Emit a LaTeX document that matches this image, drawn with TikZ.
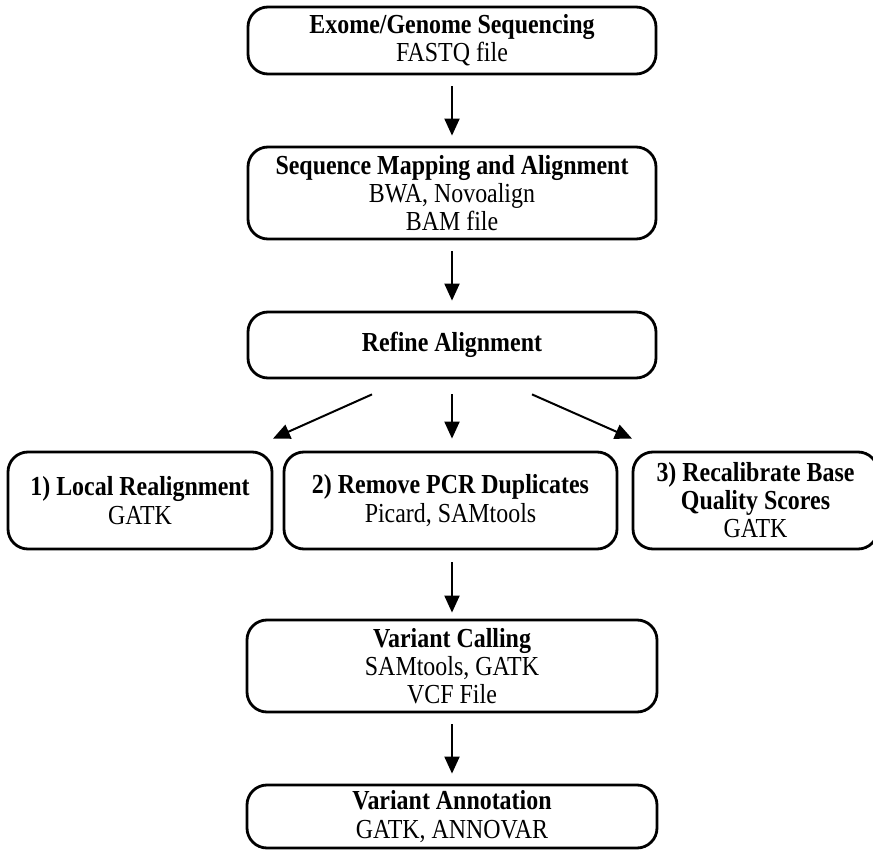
\documentclass[tikz,border=0pt]{standalone}
\usepackage{fontspec}
\setmainfont[FakeStretch=0.87]{Liberation Serif}
\usetikzlibrary{arrows.meta}
\begin{document}
\begin{tikzpicture}[x=1pt,y=-1pt,
  box/.style={draw, line width=2.8pt, rounded corners=20pt, inner sep=0pt, align=center,
    font=\fontsize{27.5}{28}\selectfont},
  arr/.style={line width=2pt, -{Triangle[length=17pt,width=15pt]}}]
\useasboundingbox (0,0) rectangle (873,850);
\node[box, minimum width=408pt, minimum height=67pt] (b1) at (452,40.5)
  {\textbf{Exome/Genome Sequencing}\\FASTQ file};
\node[box, minimum width=408pt, minimum height=92pt] (b2) at (452,193)
  {\textbf{Sequence Mapping and Alignment}\\BWA, Novoalign\\BAM file};
\node[box, minimum width=408pt, minimum height=66pt] (b3) at (452,345)
  {\textbf{Refine Alignment}};
\node[box, minimum width=264pt, minimum height=97pt] (b4a) at (140,500.5)
  {\textbf{1) Local Realignment}\\[1pt]GATK};
\node[box, minimum width=333pt, minimum height=97pt] (b4b) at (450.5,500.5)
  {\textbf{2) Remove PCR Duplicates}\\[1pt]Picard, SAMtools};
\node[box, minimum width=245pt, minimum height=97pt] (b4c) at (755.5,500.5)
  {\textbf{3) Recalibrate Base}\\\textbf{Quality Scores}\\GATK};
\node[box, minimum width=410pt, minimum height=92pt] (b5) at (452,666)
  {\textbf{Variant Calling}\\SAMtools, GATK\\VCF File};
\node[box, minimum width=410pt, minimum height=63pt] (b6) at (452,816.5)
  {\textbf{Variant Annotation}\\[1pt]GATK, ANNOVAR};
\coordinate (dls) at ([xshift=-80pt,yshift=-15pt]b3.south);
\coordinate (dle) at ([xshift=133pt,yshift=12pt]b4a.north);
\coordinate (drs) at ([xshift=80pt,yshift=-15pt]b3.south);
\coordinate (dre) at ([xshift=-123.5pt,yshift=12pt]b4c.north);
\draw[arr, shorten <=11pt, shorten >=10pt] (b1.south) -- (b2.north);
\draw[arr, shorten <=11pt, shorten >=10pt] (b2.south) -- (b3.north);
\draw[arr, shorten <=15pt, shorten >=12pt] (b3.south) -- (b3.south |- b4b.north);
\draw[arr] (dls) -- (dle);
\draw[arr] (drs) -- (dre);
\draw[arr, shorten <=12pt, shorten >=6pt] (b4b.south -| b5.north) -- (b5.north);
\draw[arr, shorten <=11pt, shorten >=10pt] (b5.south) -- (b6.north);
\end{tikzpicture}
\end{document}
